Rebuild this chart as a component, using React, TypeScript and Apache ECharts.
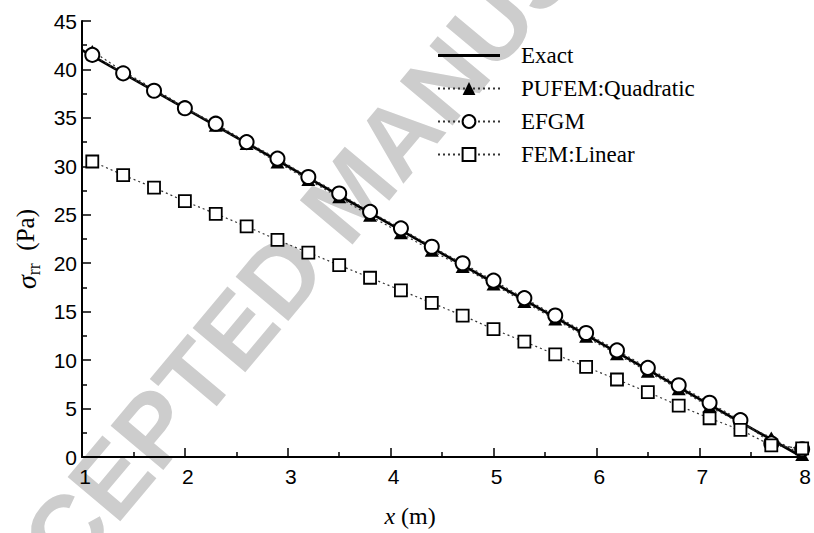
import React, { useEffect, useRef } from 'react';
import * as echarts from 'echarts';

const xValues = [1.1, 1.4, 1.7, 2.0, 2.3, 2.6, 2.9, 3.2, 3.5, 3.8, 4.1, 4.4, 4.7, 5.0, 5.3, 5.6, 5.9, 6.2, 6.5, 6.8, 7.1, 7.4, 7.7, 8.0];
const exactX = [1, 8];
const exactY = [42, 0];
const pufemY = [41.9, 39.8, 38.0, 36.1, 34.2, 32.3, 30.4, 28.6, 26.8, 24.9, 23.1, 21.3, 19.6, 17.8, 16.0, 14.2, 12.4, 10.6, 8.8, 7.0, 5.2, 3.5, 2.0, 0.2];
const efgmY = [41.5, 39.6, 37.8, 36.0, 34.4, 32.5, 30.8, 28.9, 27.2, 25.3, 23.6, 21.7, 20.0, 18.2, 16.4, 14.6, 12.8, 11.0, 9.2, 7.4, 5.6, 3.8, 1.4, 0.8];
const femY = [30.5, 29.1, 27.8, 26.4, 25.1, 23.8, 22.4, 21.1, 19.8, 18.5, 17.2, 15.9, 14.6, 13.2, 11.9, 10.6, 9.3, 8.0, 6.7, 5.3, 4.0, 2.8, 1.2, 0.9];
const seriesNames = ['Exact', 'PUFEM:Quadratic', 'EFGM', 'FEM:Linear'];

const SERIF = '"Liberation Serif", "Times New Roman", serif';
const SANS = '"Liberation Sans", Arial, sans-serif';

const pair = (xs: number[], ys: number[]) => xs.map((x, i) => [x, ys[i]]);

export default function App() {
  const ref = useRef<HTMLDivElement>(null);
  useEffect(() => {
    if (!ref.current) return;
    const chart = echarts.init(ref.current, null, { renderer: 'svg' });
    const dotted = { type: [2, 3] as any, width: 1.2, color: '#333' };
    chart.setOption({
      animation: false,
      backgroundColor: '#fff',
      graphic: [
        {
          type: 'text',
          x: 350,
          y: 193,
          rotation: (50 * Math.PI) / 180,
          z: -10,
          silent: true,
          style: {
            text: 'ACCEPTED MANUSCRIPT',
            fontSize: 100,
            fontWeight: 'bold',
            fontFamily: SANS,
            fill: '#cdcdcd',
            align: 'center',
            verticalAlign: 'middle',
          },
        },
      ],
      grid: { left: 82, right: 11, top: 21, bottom: 73, containLabel: false },
      legend: {
        orient: 'vertical',
        left: 437,
        top: 44,
        padding: 0,
        itemWidth: 62,
        itemHeight: 16,
        itemGap: 10,
        data: [
          { name: seriesNames[0], icon: 'path://M0,0H62V3H0Z' },
          seriesNames[1],
          seriesNames[2],
          seriesNames[3],
        ],
        textStyle: { fontFamily: SERIF, fontSize: 23, color: '#000', lineHeight: 23, padding: [0, 0, 0, 16] },
      },
      xAxis: {
        type: 'value',
        min: 1,
        max: 8,
        interval: 1,
        name: '{i|x} {n|(m)}',
        nameLocation: 'middle',
        nameGap: 47,
        nameTextStyle: {
          fontFamily: SERIF,
          fontSize: 24,
          color: '#000',
          padding: [0, 64, 0, 0],
          rich: {
            i: { fontFamily: SERIF, fontSize: 24, fontStyle: 'italic', color: '#000' },
            n: { fontFamily: SERIF, fontSize: 24, color: '#000' },
          },
        },
        axisLine: { lineStyle: { color: '#000', width: 2 } },
        axisTick: { inside: true, length: 9, lineStyle: { color: '#000', width: 1.5 } },
        minorTick: { show: true, splitNumber: 2, length: 5, lineStyle: { color: '#000', width: 1.5 } },
        splitLine: { show: false },
        axisLabel: { color: '#000', fontSize: 21, fontFamily: SANS, margin: 9, padding: [0, 0, 0, 6] },
      },
      yAxis: {
        type: 'value',
        min: 0,
        max: 45,
        interval: 5,
        name: '{s|σ}{sub|rr}  {n|(Pa)}',
        nameLocation: 'middle',
        nameRotate: 90,
        nameGap: 36,
        nameTextStyle: {
          fontFamily: SERIF,
          fontSize: 25,
          color: '#000',
          padding: [0, 20, 0, 0],
          rich: {
            s: { fontFamily: SERIF, fontSize: 28, fontStyle: 'italic', color: '#000', lineHeight: 26, verticalAlign: 'top' },
            sub: { fontFamily: SERIF, fontSize: 18, color: '#000', lineHeight: 30, verticalAlign: 'bottom' },
            n: { fontFamily: SERIF, fontSize: 25, color: '#000', lineHeight: 26, verticalAlign: 'top' },
          },
        },
        axisLine: { show: true, lineStyle: { color: '#000', width: 2 } },
        axisTick: { show: true, inside: true, length: 9, lineStyle: { color: '#000', width: 1.5 } },
        minorTick: { show: true, splitNumber: 2, length: 5, lineStyle: { color: '#000', width: 1.5 } },
        splitLine: { show: false },
        axisLabel: { color: '#000', fontSize: 21, fontFamily: SANS, margin: 5 },
      },
      series: [
        {
          name: seriesNames[0],
          type: 'line',
          data: pair(exactX, exactY),
          symbol: 'none',
          lineStyle: { color: '#000', width: 2.6 },
          itemStyle: { color: '#000' },
          z: 2,
        },
        {
          name: seriesNames[1],
          type: 'line',
          data: pair(xValues, pufemY),
          symbol: 'triangle',
          symbolSize: [14, 12],
          showAllSymbol: true,
          lineStyle: dotted,
          itemStyle: { color: '#000' },
          z: 3,
        },
        {
          name: seriesNames[2],
          type: 'line',
          data: pair(xValues, efgmY),
          symbol: 'circle',
          symbolSize: 14,
          showAllSymbol: true,
          lineStyle: dotted,
          itemStyle: { color: '#fff', borderColor: '#000', borderWidth: 2 },
          z: 4,
        },
        {
          name: seriesNames[3],
          type: 'line',
          data: pair(xValues, femY),
          symbol: 'rect',
          symbolSize: 12,
          showAllSymbol: true,
          lineStyle: dotted,
          itemStyle: { color: '#fff', borderColor: '#000', borderWidth: 1.8 },
          z: 4,
        },
      ],
    });
    return () => chart.dispose();
  }, []);
  return <div ref={ref} style={{ width: 814, height: 533, position: 'absolute', left: 0, top: 0 }} />;
}
